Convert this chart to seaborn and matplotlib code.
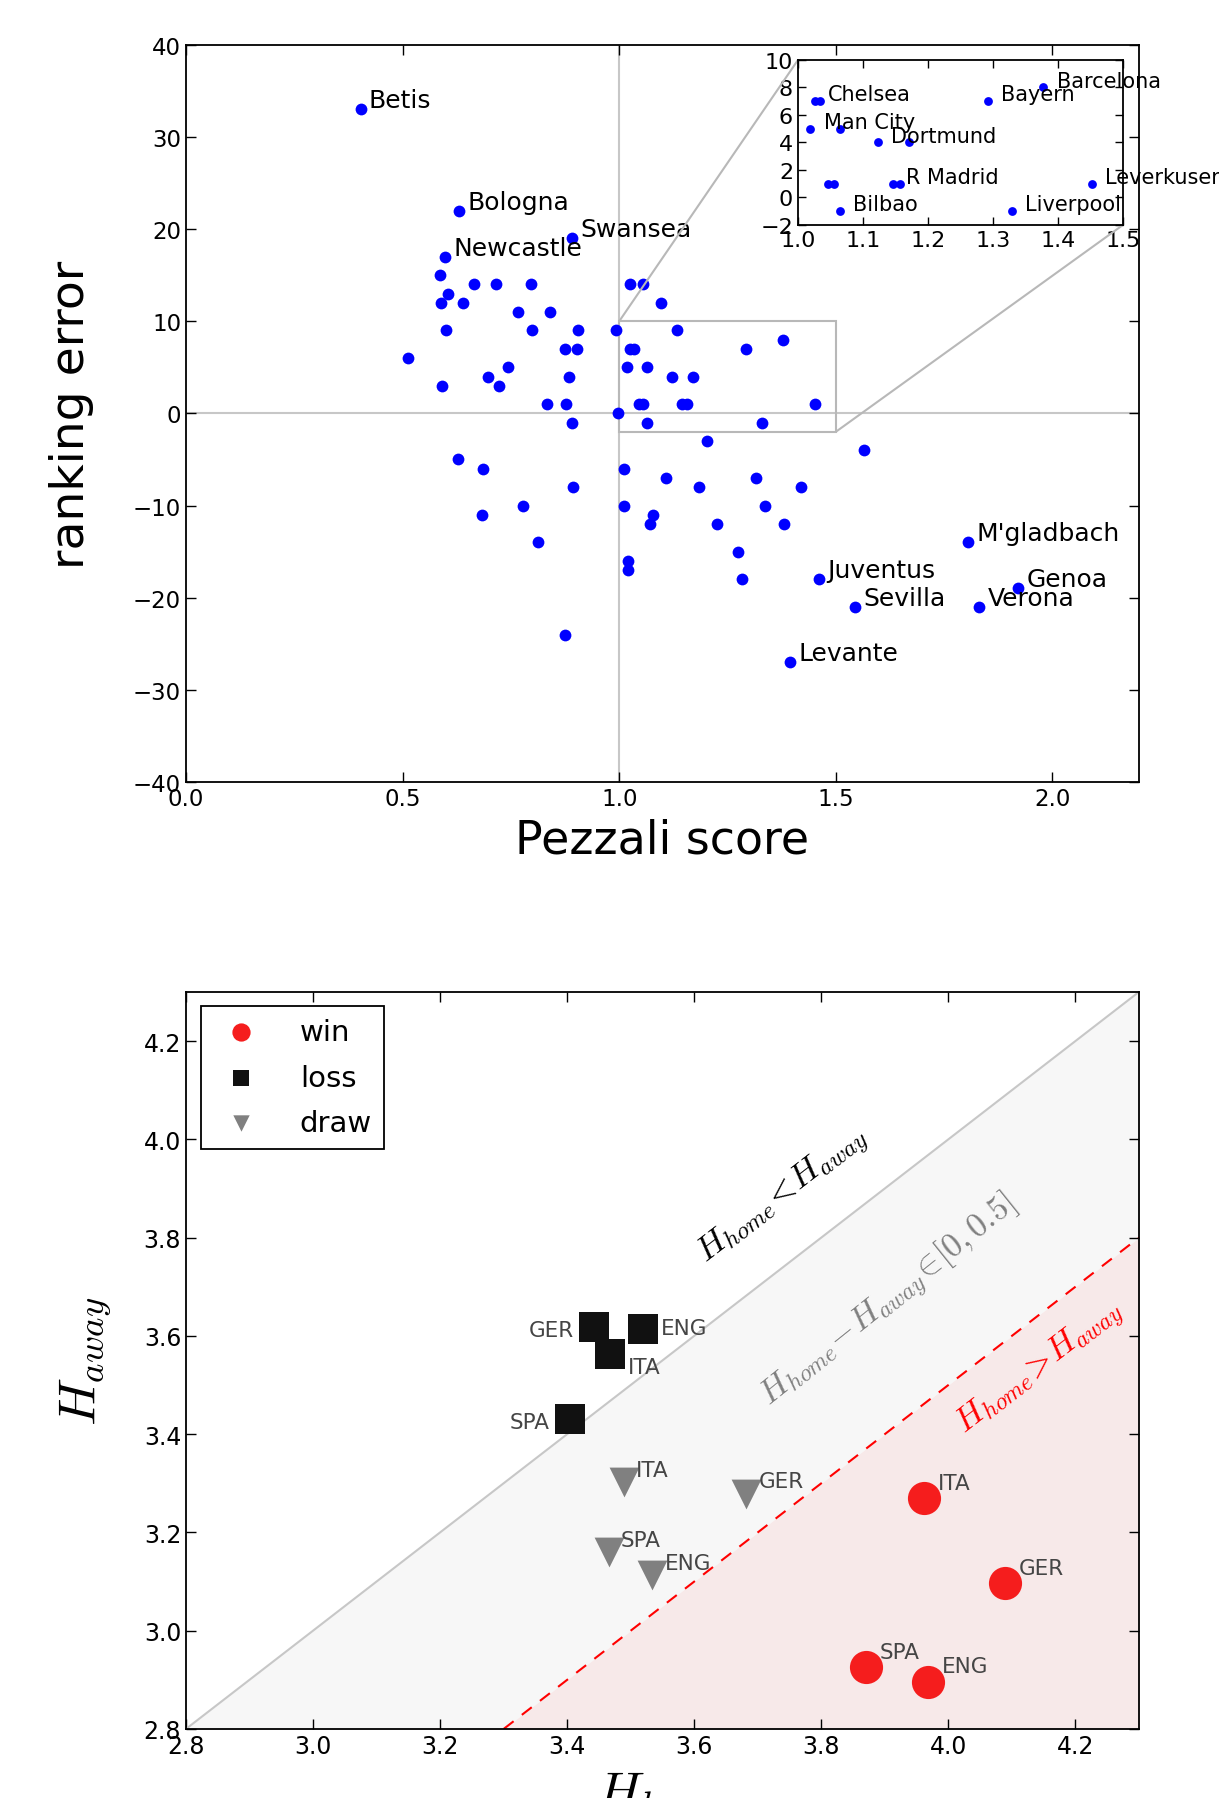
import numpy as np
import pandas as pd
import matplotlib
matplotlib.use('Agg')
import matplotlib.pyplot as plt
import seaborn as sns
from mpl_toolkits.axes_grid1.inset_locator import mark_inset

# ---- top panel: ranking error vs Pezzali score ----
team = ['Betis', 'Bologna', 'Swansea', 'Newcastle', "M'gladbach", 'Juventus',
        'Genoa', 'Sevilla', 'Verona', 'Levante'] + [''] * 68
pezzali = [0.403, 0.631, 0.891, 0.599, 1.805, 1.462, 1.921, 1.545, 1.831, 1.394,
           0.586, 0.664, 0.716, 0.796, 1.026, 1.056, 0.605, 0.589, 0.640, 1.097,
           0.766, 0.840, 0.601, 0.798, 0.904, 0.992, 1.133, 1.3775, 0.875, 0.903,
           1.0257, 1.0345, 1.292, 0.513, 0.743, 1.019, 1.065, 0.696, 0.884, 1.123,
           1.171, 0.590, 0.723, 0.833, 0.877, 1.046, 1.055, 1.146, 1.157, 1.452,
           0.997, 0.892, 1.065, 1.329, 1.203, 1.566, 0.629, 0.686, 1.011, 1.108,
           1.315, 0.893, 1.185, 1.420, 0.778, 1.012, 1.336, 0.683, 1.077, 1.070,
           1.226, 1.381, 0.813, 1.275, 1.021, 1.020, 1.283, 0.876]
rank_err = [33, 22, 19, 17, -14, -18, -19, -21, -21, -27,
            15, 14, 14, 14, 14, 14, 13, 12, 12, 12,
            11, 11, 9, 9, 9, 9, 9, 8, 7, 7,
            7, 7, 7, 6, 5, 5, 5, 4, 4, 4,
            4, 3, 3, 1, 1, 1, 1, 1, 1, 1,
            0, -1, -1, -1, -3, -4, -5, -6, -6, -7,
            -7, -8, -8, -8, -10, -10, -10, -11, -11, -12,
            -12, -12, -14, -15, -16, -17, -18, -24]

# zoomed inset
inset_team = ['Chelsea', '', 'Man City', '', 'Dortmund', '', '', '', 'R Madrid', '',
              'Leverkusen', 'Bilbao', 'Liverpool', 'Bayern', 'Barcelona']
inset_x = [1.0257, 1.0345, 1.019, 1.065, 1.123, 1.171, 1.046, 1.055, 1.146, 1.157,
           1.452, 1.065, 1.329, 1.292, 1.3775]
inset_y = [7, 7, 5, 5, 4, 4, 1, 1, 1, 1, 1, -1, -1, 7, 8]

# ---- bottom panel: entropy home vs away ----
league = ['ITA', 'GER', 'SPA', 'ENG']
h_home_win = [3.962, 4.089, 3.870, 3.968]
h_away_win = [3.270, 3.097, 2.926, 2.896]
h_home_loss = [3.467, 3.442, 3.405, 3.519]
h_away_loss = [3.562, 3.618, 3.431, 3.613]
h_home_draw = [3.489, 3.682, 3.465, 3.534]
h_away_draw = [3.302, 3.279, 3.160, 3.113]
h_range = np.array([2.8, 4.3])
gap = 0.5

sns.set_style('ticks')
plt.rcParams['font.family'] = ['DejaVu Sans']
plt.rcParams['mathtext.fontset'] = 'cm'
plt.rcParams['xtick.direction'] = 'in'
plt.rcParams['ytick.direction'] = 'in'
plt.rcParams['xtick.top'] = True
plt.rcParams['ytick.right'] = True
plt.rcParams['axes.linewidth'] = 1.3
plt.rcParams['axes.edgecolor'] = 'black'
for k in ['text.color', 'axes.labelcolor', 'xtick.color', 'ytick.color',
          'xtick.labelcolor', 'ytick.labelcolor']:
    plt.rcParams[k] = 'black'

fig = plt.figure(figsize=(12.19, 17.99), dpi=100)
ax = fig.add_axes([0.1526, 0.5648, 0.7818, 0.4097])
ax2 = fig.add_axes([0.1526, 0.0384, 0.7818, 0.4097])

# top panel
top = pd.DataFrame({'team': team, 'pezzali': pezzali, 'err': rank_err})
ax.axvline(1.0, color='0.78', lw=1.5, zorder=0)
ax.axhline(0.0, color='0.78', lw=1.5, zorder=0)
sns.scatterplot(data=top, x='pezzali', y='err', color='#0000ff', s=72,
                linewidth=0, ax=ax, zorder=3)
for t, xx, yy in zip(team, pezzali, rank_err):
    if t:
        ax.annotate(t, (xx, yy), xytext=(6, 6.5), textcoords='offset points',
                    fontsize=18, va='center', ha='left')
ax.set_xlim(0, 2.2)
ax.set_ylim(-40, 40)
ax.set_xticks([0.0, 0.5, 1.0, 1.5, 2.0])
ax.set_yticks(range(-40, 41, 10))
ax.tick_params(labelsize=16.5, length=7, width=1, color='black')
ax.set_xlabel('Pezzali score', fontsize=33, va='center')
ax.xaxis.set_label_coords(0.5, -0.079)
ax.set_ylabel('ranking error', fontsize=34, va='center')
ax.yaxis.set_label_coords(-0.12, 0.5)

axins = fig.add_axes([0.6546, 0.8744, 0.2666, 0.0917])
ins = pd.DataFrame({'team': inset_team, 'x': inset_x, 'y': inset_y})
sns.scatterplot(data=ins, x='x', y='y', color='#0000ff', s=40, linewidth=0,
                ax=axins, zorder=3)
for t, xx, yy in zip(inset_team, inset_x, inset_y):
    if t:
        axins.annotate(t, (xx, yy), xytext=(9.5, 5), textcoords='offset points',
                       fontsize=15, va='center', ha='left')
axins.set_xlim(1.0, 1.5)
axins.set_ylim(-2, 10)
axins.set_xticks(np.round(np.arange(1.0, 1.51, 0.1), 1))
axins.set_yticks(range(-2, 11, 2))
axins.tick_params(labelsize=16, length=6, width=1)
axins.set_xlabel('')
axins.set_ylabel('')
mark_inset(ax, axins, loc1=2, loc2=4, fc='none', ec='0.72', lw=1.5)

# bottom panel
ax2.fill_between(h_range, h_range - gap, h_range, color='#f7f7f7', lw=0, zorder=0)
ax2.fill_between(h_range, h_range[0], h_range - gap, color='#f7e9e9', lw=0, zorder=0)
ax2.plot(h_range, h_range, color='0.78', lw=1.5, zorder=1)
ax2.plot(h_range, h_range - gap, color='red', lw=1.5, ls=(0, (6, 5)), zorder=1)

groups = [('win', h_home_win, h_away_win, 'o', '#f51d1d', 570),
          ('loss', h_home_loss, h_away_loss, 's', '#111111', 470),
          ('draw', h_home_draw, h_away_draw, 'v', '#808080', 460)]
for name, hx, hy, mk, col, sz in groups:
    d = pd.DataFrame({'league': league, 'home': hx, 'away': hy})
    sns.scatterplot(data=d, x='home', y='away', marker=mk, color=col, s=sz,
                    linewidth=0, ax=ax2, label=name, zorder=3)

label_offsets = {
    'win': {'ITA': (10, 11, 'left'), 'GER': (10, 11, 'left'),
            'SPA': (10, 11, 'left'), 'ENG': (10, 11, 'left')},
    'draw': {'ITA': (9, 9, 'left'), 'GER': (9, 9, 'left'),
             'SPA': (9, 9, 'left'), 'ENG': (9, 9, 'left')},
    'loss': {'ITA': (13, -9, 'left'), 'GER': (-14, -2, 'right'),
             'SPA': (-15, -2, 'right'), 'ENG': (13, 1, 'left')},
}
for name, hx, hy, mk, col, sz in groups:
    for lg, xx, yy in zip(league, hx, hy):
        dx, dy, ha = label_offsets[name][lg]
        ax2.annotate(lg, (xx, yy), xytext=(dx, dy), textcoords='offset points',
                     fontsize=15.5, color='0.27', ha=ha, va='center', zorder=4)

ax2.text(3.74, 3.885, r'$H_{home}\!<\!H_{away}$', fontsize=25, color='black',
         rotation=45, transform_rotates_text=True, rotation_mode='anchor',
         ha='center', va='center')
ax2.text(3.905, 3.672, r'$H_{home}\!-\!H_{away}\!\in\![0,0.5]$', fontsize=24.5,
         color='0.5', rotation=46, transform_rotates_text=True,
         rotation_mode='anchor', ha='center', va='center')
ax2.text(4.143, 3.537, r'$H_{home}\!>\!H_{away}$', fontsize=24.5, color='red',
         rotation=45, transform_rotates_text=True, rotation_mode='anchor',
         ha='center', va='center')

ax2.set_xlim(h_range)
ax2.set_ylim(h_range)
ticks = np.round(np.arange(2.8, 4.21, 0.2), 1)
ax2.set_xticks(ticks)
ax2.set_yticks(ticks)
ax2.tick_params(labelsize=17, length=7, width=1)
ax2.set_xlabel(r'$H_{home}$', fontsize=38, va='top')
ax2.xaxis.set_label_coords(0.5, -0.052)
ax2.set_ylabel(r'$H_{away}$', fontsize=38, va='center')
ax2.yaxis.set_label_coords(-0.105, 0.5)

leg = ax2.legend(loc='upper left', fontsize=21, markerscale=0.55, frameon=True,
                 fancybox=False, edgecolor='black', borderaxespad=0.5,
                 labelspacing=0.6, handletextpad=1.0, borderpad=0.4)
leg.get_frame().set_linewidth(1.3)
leg.get_frame().set_alpha(1)

plt.savefig('out.png', dpi=100)
